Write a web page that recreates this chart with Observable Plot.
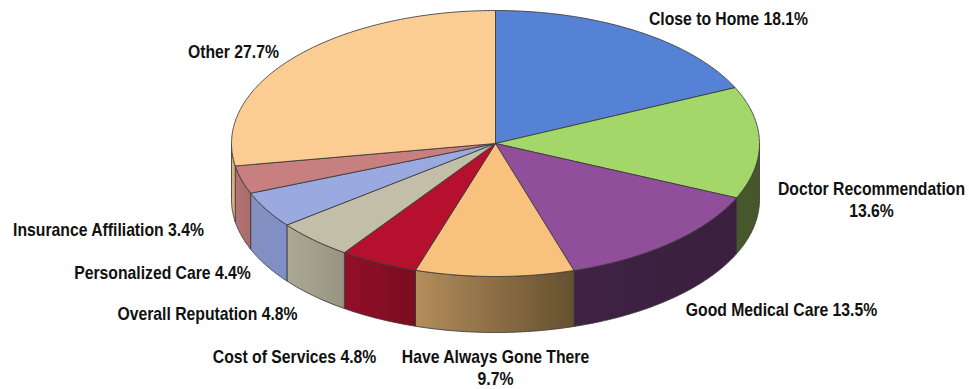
<!DOCTYPE html>
<html><head><meta charset="utf-8">
<script src="https://cdn.jsdelivr.net/npm/d3@7"></script>
<script src="https://cdn.jsdelivr.net/npm/@observablehq/plot@0.6"></script>
<style>html,body{margin:0;padding:0;background:#fff}svg{display:block}</style>
</head><body><div id="chart"></div>
<script>
const categories = ["Close to Home","Doctor Recommendation","Good Medical Care","Have Always Gone There","Cost of Services","Overall Reputation","Personalized Care","Insurance Affiliation","Other"];
const shares = [18.1,13.6,13.5,9.7,4.8,4.8,4.4,3.4,27.7];
const topColors = ["#5682D6","#A3D76A","#914F9B","#F8C27E","#B5112F","#C3BEA8","#9AA9E0","#C77F80","#FBCD93"];
const wallStart = ["#4A6BB0","#46582B","#3F2244","#B48D5C","#920F28","#ABA893","#8490BE","#B57474","#DDB47E"];
const wallEnd   = ["#4A6BB0","#46582B","#3A1F3E","#65502F","#7A0D20","#97947F","#7F8FC8","#A86A6A","#D4AC78"];
const labelTexts = ["Close to Home 18.1%","Doctor Recommendation\n13.6%","Good Medical Care 13.5%","Have Always Gone There\n9.7%","Cost of Services 4.8%","Overall Reputation 4.8%","Personalized Care 4.4%","Insurance Affiliation 3.4%","Other 27.7%"];
const labelX = [728,871,781,495,294,207,162,108,233];
const labelY = [17,198.5,308,366.5,355,312,271,228,50];

const W = 969, H = 389, cx = 495, cy = 143, rx = 264, ry = 133, depth = 56;
const px = a => cx + rx * Math.sin(a), py = a => cy - ry * Math.cos(a);
const arcs = d3.pie().sort(null).value(d => d)(shares);
const arcPts = (a0, a1) => {
  const n = Math.max(2, Math.ceil((a1 - a0) / 0.01));
  return d3.range(n + 1).map(i => a0 + (a1 - a0) * i / n);
};
const topPoly = arc => {
  const pts = arcPts(arc.startAngle, arc.endAngle).map(a => ({x: px(a), y: py(a)}));
  return [{x: cx, y: cy}, ...pts, {x: cx, y: cy}];
};
const wallPoly = arc => {
  const a0 = Math.max(arc.startAngle, Math.PI / 2), a1 = Math.min(arc.endAngle, 3 * Math.PI / 2);
  if (a1 <= a0) return null;
  const as = arcPts(a0, a1);
  const up = as.map(a => ({x: px(a), y: py(a)}));
  const down = as.slice().reverse().map(a => ({x: px(a), y: py(a) + depth}));
  return [...up, ...down, up[0]];
};
const line = "#3a3a3a";
const marks = [];
arcs.forEach((arc, i) => {
  const w = wallPoly(arc);
  if (w) marks.push(Plot.line(w, {x: "x", y: "y", fill: `url(#wall${i})`, stroke: line, strokeWidth: 1, strokeOpacity: 0.85, curve: "linear"}));
});
arcs.forEach((arc, i) => {
  marks.push(Plot.line(topPoly(arc), {x: "x", y: "y", fill: topColors[i], stroke: line, strokeWidth: 1, strokeOpacity: 0.85, curve: "linear"}));
});
const labels = labelTexts.map((t, i) => ({t, x: labelX[i], y: labelY[i]}));
marks.push(Plot.text(labels, {x: "x", y: "y", text: "t", fill: "#111", fontWeight: "bold", fontSize: 17.5, lineHeight: 1.26, textAnchor: "middle",
  fontFamily: "'Liberation Sans',sans-serif", className: "pie-label"}));

const chart = Plot.plot({
  width: W, height: H, margin: 0,
  x: {domain: [0, W], range: [0, W], axis: null},
  y: {domain: [0, H], range: [0, H], axis: null},
  marks
});
const defs = d3.select(chart).insert("defs", ":first-child");
wallStart.forEach((c, i) => {
  const g = defs.append("linearGradient").attr("id", `wall${i}`).attr("x1", 0).attr("x2", 1).attr("y1", 0).attr("y2", 0);
  g.append("stop").attr("offset", 0).attr("stop-color", c);
  g.append("stop").attr("offset", 1).attr("stop-color", wallEnd[i]);
});
d3.select(chart).selectAll(".pie-label text").attr("transform", function () {
  return `${this.getAttribute("transform") || ""} scale(0.9,1)`;
});
document.getElementById("chart").append(chart);
</script></body></html>
